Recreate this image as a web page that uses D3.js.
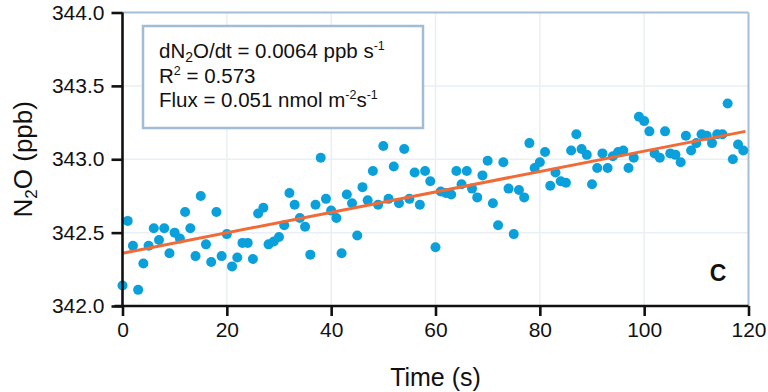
<!DOCTYPE html>
<html><head><meta charset="utf-8">
<script src="https://cdn.jsdelivr.net/npm/d3@7"></script>
<style>
html,body{margin:0;padding:0;background:#fff;}
svg{display:block;font-family:"Liberation Sans",Arial,Helvetica,sans-serif;}
</style></head>
<body><svg id="chart" width="768" height="392"></svg>
<script>
// ---- data ----
const times = d3.range(0, 120); // seconds 0..119
const n2o = [
342.14,342.58,342.41,342.11,342.29,342.41,342.53,342.45,342.53,342.36,
342.50,342.46,342.64,342.53,342.34,342.75,342.42,342.30,342.64,342.34,
342.49,342.27,342.33,342.43,342.43,342.32,342.63,342.67,342.42,342.44,
342.47,342.55,342.77,342.69,342.60,342.54,342.35,342.69,343.01,342.73,
342.65,342.60,342.36,342.76,342.70,342.48,342.81,342.72,342.92,342.69,
343.09,342.73,342.95,342.70,343.07,342.73,342.91,342.69,342.92,342.85,
342.40,342.78,342.77,342.76,342.92,342.83,342.92,342.80,342.74,342.89,
342.99,342.70,342.55,342.98,342.80,342.49,342.79,342.74,343.11,342.94,
342.98,343.05,342.82,342.91,342.85,342.84,343.06,343.17,343.07,343.03,
342.83,342.94,343.04,342.94,343.02,343.05,343.06,342.94,343.01,343.29,
343.26,343.19,343.04,343.01,343.19,343.04,343.03,342.98,343.16,343.06,
343.11,343.17,343.16,343.11,343.17,343.17,343.38,343.00,343.10,343.06
];
const fitTimes = [0, 119.4];
const fitValues = [342.36, 343.19];
const xTicks = [0, 20, 40, 60, 80, 100, 120];
const yTicks = [342.0, 342.5, 343.0, 343.5, 344.0];
const xLabel = "Time (s)";
const panelLabel = "C";

// ---- scales ----
const svg = d3.select("#chart");
const x = d3.scaleLinear().domain([0, 120]).range([122.5, 748.5]);
const y = d3.scaleLinear().domain([342, 344]).range([306, 12.5]);

// grid
const grid = svg.append("g");
grid.selectAll("line.gx").data(xTicks.slice(1, -1)).join("line")
  .attr("x1", d => x(d)).attr("x2", d => x(d)).attr("y1", y(344)).attr("y2", y(342))
  .attr("stroke", "#e9eff5").attr("stroke-width", 1.5);
grid.selectAll("line.gy").data(yTicks.slice(1, -1)).join("line")
  .attr("y1", d => y(d)).attr("y2", d => y(d)).attr("x1", x(0)).attr("x2", x(120))
  .attr("stroke", "#e9eff5").attr("stroke-width", 1.5);

// frame top/right
svg.append("line").attr("x1", x(0)).attr("x2", x(120)).attr("y1", y(344)).attr("y2", y(344))
  .attr("stroke", "#a6bdd6").attr("stroke-width", 2);
svg.append("line").attr("x1", x(120)).attr("x2", x(120)).attr("y1", y(344)).attr("y2", y(342))
  .attr("stroke", "#a6bdd6").attr("stroke-width", 2);

// text box
const box = svg.append("g");
box.append("rect").attr("x", 143).attr("y", 26).attr("width", 280).attr("height", 102)
  .attr("fill", "#fff").attr("stroke", "#a3bcd6").attr("stroke-width", 2.5);
const FS = 20.5, SS = 12.5;
const l1 = box.append("text").attr("x", 159).attr("y", 58).attr("font-size", FS).attr("fill", "#111");
l1.append("tspan").text("dN");
l1.append("tspan").attr("font-size", 14).attr("dy", 4).text("2");
l1.append("tspan").attr("dy", -4).text("O/dt = 0.0064 ppb s");
l1.append("tspan").attr("font-size", SS).attr("dy", -8).text("-1");
const l2 = box.append("text").attr("x", 159).attr("y", 83).attr("font-size", FS).attr("fill", "#111");
l2.append("tspan").text("R");
l2.append("tspan").attr("font-size", SS).attr("dy", -8).text("2");
l2.append("tspan").attr("dy", 8).text(" = 0.573");
const l3 = box.append("text").attr("x", 159).attr("y", 107).attr("font-size", FS).attr("fill", "#111");
l3.append("tspan").text("Flux = 0.051 nmol m");
l3.append("tspan").attr("font-size", SS).attr("dy", -8).text("-2");
l3.append("tspan").attr("dy", 8).text("s");
l3.append("tspan").attr("font-size", SS).attr("dy", -8).text("-1");

// points
svg.append("g").selectAll("circle").data(times).join("circle")
  .attr("cx", (d) => x(d)).attr("cy", (d, i) => y(n2o[i])).attr("r", 5)
  .attr("fill", "#0aa0dc");

// fit line
svg.append("path")
  .datum(fitTimes.map((t, i) => [t, fitValues[i]]))
  .attr("d", d3.line().x(d => x(d[0])).y(d => y(d[1])))
  .attr("stroke", "#f26a36").attr("stroke-width", 3).attr("fill", "none");

// axes
const xAxis = svg.append("g").attr("transform", `translate(0,${y(342)})`)
  .call(d3.axisBottom(x).tickValues(xTicks).tickFormat(d3.format("d")).tickSize(10).tickPadding(6));
const yAxis = svg.append("g").attr("transform", `translate(${x(0)},0)`)
  .call(d3.axisLeft(y).tickValues(yTicks).tickFormat(d3.format(".1f")).tickSize(11).tickPadding(7));
[xAxis, yAxis].forEach(a => {
  a.select(".domain").attr("stroke", "#111").attr("stroke-width", 2.6);
  a.selectAll(".tick line").attr("stroke", "#111").attr("stroke-width", 2.6);
  a.selectAll(".tick text").attr("fill", "#111").attr("font-size", 21)
    .attr("font-family", "'Liberation Sans',Arial,sans-serif");
});
xAxis.select(".domain").attr("d", `M${x(0) - 8},0H${x(120)}`);
yAxis.select(".domain").attr("d", `M0,${y(344)}V${y(342)}`);

// axis titles
svg.append("text").attr("x", (x(0) + x(120)) / 2).attr("y", 386).attr("text-anchor", "middle")
  .attr("font-size", 25).attr("fill", "#111").text(xLabel);
const yl = svg.append("text").attr("transform", `translate(32,${(y(344) + y(342)) / 2}) rotate(-90)`)
  .attr("text-anchor", "middle").attr("font-size", 26).attr("fill", "#111");
yl.append("tspan").text("N");
yl.append("tspan").attr("font-size", 17).attr("dy", 5).text("2");
yl.append("tspan").attr("dy", -5).text("O (ppb)");

// panel label
svg.append("text").attr("x", 718).attr("y", 281).attr("text-anchor", "middle")
  .attr("font-size", 23).attr("font-weight", "bold").attr("fill", "#111").text(panelLabel);
</script></body></html>
